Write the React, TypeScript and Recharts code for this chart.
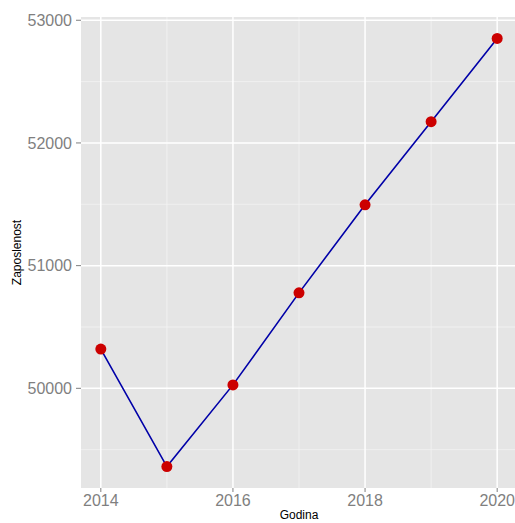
import {
  LineChart,
  Line,
  XAxis,
  YAxis,
  CartesianGrid,
} from "recharts";

// years and employment numbers
const years = [2014, 2015, 2016, 2017, 2018, 2019, 2020];
const zaposlenost = [50320, 49362, 50028, 50778, 51496, 52173, 52852];

const xTicks = [2014, 2016, 2018, 2020];
const xMinor = [2015, 2017, 2019];
const yTicks = [50000, 51000, 52000, 53000];
const yMinor = [49500, 50500, 51500, 52500];

const data = years.map((g, i) => ({ godina: g, vrijednost: zaposlenost[i] }));

const font = "'Liberation Sans', Arial, sans-serif";
const tickStyle = { fill: "#7f7f7f", fontSize: 16, fontFamily: font };

export default function App() {
  return (
    <div
      style={{
        position: "absolute",
        left: 0,
        top: 0,
        width: 515,
        height: 523,
        overflow: "hidden",
        background: "#fff",
      }}
    >
      <LineChart
        width={520}
        height={523}
        data={data}
        margin={{ top: 17, right: 3, bottom: 0, left: 0 }}
      >
        {/* panel background + minor grid */}
        <CartesianGrid
          fill="#e5e5e5"
          stroke="#f2f2f2"
          strokeWidth={0.8}
          horizontalValues={yMinor}
          verticalValues={xMinor}
        />
        {/* major grid */}
        <CartesianGrid
          stroke="#ffffff"
          strokeWidth={1.5}
          horizontalValues={yTicks}
          verticalValues={xTicks}
        />
        <XAxis
          dataKey="godina"
          type="number"
          domain={[2013.7, 2020.3]}
          allowDataOverflow
          ticks={xTicks}
          height={35}
          axisLine={false}
          tickLine={{ stroke: "#7f7f7f" }}
          tickSize={4}
          tickMargin={3}
          tick={tickStyle}
          label={{
            value: "Godina",
            position: "insideBottom",
            offset: 4,
            fill: "#000",
            fontSize: 12,
            fontFamily: font,
          }}
        />
        <YAxis
          type="number"
          domain={[49187.5, 53026.5]}
          allowDataOverflow
          ticks={yTicks}
          width={81}
          axisLine={false}
          tickLine={{ stroke: "#7f7f7f" }}
          tickSize={5}
          tickMargin={4}
          tick={tickStyle}
          label={{
            content: (props: any) => {
              const vb = props.viewBox || { x: 0, y: 17, height: 471 };
              const cx = vb.x + 17;
              const cy = vb.y + vb.height / 2;
              return (
                <text
                  x={cx}
                  y={cy}
                  transform={`rotate(-90 ${cx} ${cy})`}
                  textAnchor="middle"
                  dominantBaseline="central"
                  fontSize={12}
                  fontFamily={font}
                  fill="#000"
                >
                  Zaposlenost
                </text>
              );
            },
          }}
        />
        <Line
          type="linear"
          dataKey="vrijednost"
          stroke="#0000a8"
          strokeWidth={1.6}
          dot={{ r: 5.5, fill: "#cc0000", stroke: "none" }}
          isAnimationActive={false}
        />
      </LineChart>
    </div>
  );
}
